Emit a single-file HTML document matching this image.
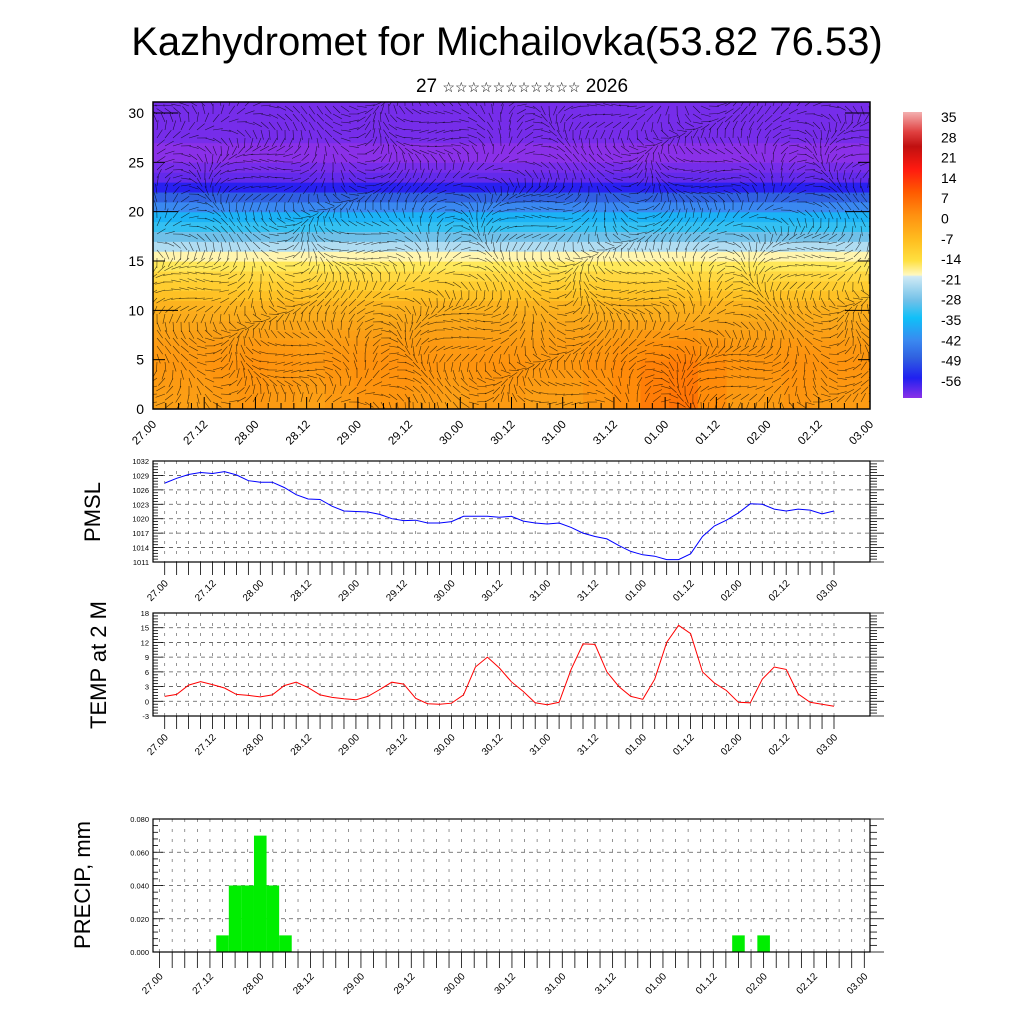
<!DOCTYPE html>
<html><head><meta charset="utf-8"><style>
html,body{margin:0;padding:0;background:#fff}
svg{display:block;font-family:"Liberation Sans",sans-serif}
</style></head><body>
<svg id="c" width="1024" height="1024" viewBox="0 0 1024 1024" xmlns="http://www.w3.org/2000/svg">
<defs>
<linearGradient id="cbg" x1="0" y1="0" x2="0" y2="1">
<stop offset="0" stop-color="#f4b0b0"/><stop offset="0.07" stop-color="#e04040"/><stop offset="0.12" stop-color="#c01010"/>
<stop offset="0.2" stop-color="#ff1a10"/><stop offset="0.28" stop-color="#ff5a00"/><stop offset="0.36" stop-color="#ff9010"/>
<stop offset="0.45" stop-color="#ffbf20"/><stop offset="0.52" stop-color="#ffe040"/><stop offset="0.57" stop-color="#fff8c0"/>
<stop offset="0.575" stop-color="#d0eaf5"/><stop offset="0.66" stop-color="#70c0e8"/><stop offset="0.72" stop-color="#10c0f8"/>
<stop offset="0.8" stop-color="#3a88f0"/><stop offset="0.86" stop-color="#3060e0"/><stop offset="0.93" stop-color="#2020f0"/><stop offset="1" stop-color="#8a30e8"/>
</linearGradient>
<clipPath id="topclip"><rect x="153" y="102" width="717" height="307"/></clipPath>
</defs>
<text x="507" y="55" font-size="40" text-anchor="middle">Kazhydromet for Michailovka(53.82 76.53)</text>
<text x="522" y="92" font-size="19" text-anchor="middle">27 <tspan font-size="14">☆☆☆☆☆☆☆☆☆☆☆</tspan> 2026</text>
<g id="top"></g>
<g id="cb"></g>
<g id="p1"></g>
<g id="p2"></g>
<g id="p3"></g>
<text transform="translate(100,512) rotate(-90)" font-size="22" text-anchor="middle">PMSL</text>
<text transform="translate(106,665) rotate(-90)" font-size="22" text-anchor="middle">TEMP at 2 M</text>
<text transform="translate(90,885) rotate(-90)" font-size="22" text-anchor="middle">PRECIP, mm</text>
</svg>
<script>
const timeLabels=['27.00','27.12','28.00','28.12','29.00','29.12','30.00','30.12','31.00','31.12','01.00','01.12','02.00','02.12','03.00'];
const pmsl=[1027.4,1028.4,1029.2,1029.6,1029.4,1029.8,1029.1,1027.9,1027.6,1027.6,1026.5,1025.0,1024.1,1024.0,1022.6,1021.6,1021.5,1021.4,1020.9,1020.0,1019.6,1019.7,1019.1,1019.1,1019.4,1020.5,1020.5,1020.5,1020.3,1020.5,1019.5,1019.1,1018.9,1019.1,1018.2,1017.0,1016.3,1015.8,1014.4,1013.2,1012.5,1012.2,1011.5,1011.5,1012.7,1016.3,1018.5,1019.7,1021.2,1023.1,1023.0,1022.0,1021.6,1022.0,1021.8,1021.0,1021.6];
const temp=[1.0,1.4,3.3,4.0,3.4,2.7,1.4,1.2,0.9,1.3,3.2,3.9,2.8,1.3,0.8,0.5,0.3,1.0,2.4,3.9,3.5,0.6,-0.5,-0.6,-0.4,1.3,7.0,9.0,6.8,4.0,2.0,-0.3,-0.7,-0.2,6.5,11.7,11.6,6.0,3.0,1.0,0.4,4.5,12.0,15.5,13.8,6.0,3.7,2.2,-0.2,-0.3,4.5,7.0,6.5,1.5,-0.2,-0.6,-1.0];
const precip=[0,0,0,0,0,0.01,0.04,0.04,0.07,0.04,0.01,0,0,0,0,0,0,0,0,0,0,0,0,0,0,0,0,0,0,0,0,0,0,0,0,0,0,0,0,0,0,0,0,0,0,0,0.01,0,0.01,0,0,0,0,0,0,0,0];
const pmslTicks=[1011,1014,1017,1020,1023,1026,1029,1032];
const tempTicks=[-3,0,3,6,9,12,15,18];
const precipTicks=[0,0.02,0.04,0.06,0.08];
const precipTickLabels=['0.000','0.020','0.040','0.060','0.080'];
const heightTicks=[0,5,10,15,20,25,30];
const cbLabels=[35,28,21,14,7,0,-7,-14,-21,-28,-35,-42,-49,-56];
const profile=[4,4.5,5,5.5,6,5.5,5,4,3,2,1,-1,-3,-5,-8,-13,-17,-22,-27,-32,-38,-46,-52,-55,-56,-57,-57,-56,-56,-56,-56,-56];
const anomaly=[0,0,1,2,1,0,1,2,2,1,0,1,1,0,0,2,4,6,7,4,1,1,2,1,1];

const NS='http://www.w3.org/2000/svg';
function el(tag,attrs,parent){const e=document.createElementNS(NS,tag);for(const k in attrs)e.setAttribute(k,attrs[k]);parent.appendChild(e);return e;}

const cstops=[[-57,[138,48,232]],[-52,[40,32,240]],[-46,[48,96,224]],[-38,[58,136,240]],[-30,[16,192,248]],[-22,[112,192,232]],[-14.5,[208,234,245]],[-14,[255,248,192]],[-8,[255,232,90]],[-2,[255,200,40]],[3,[250,165,25]],[8,[255,140,10]],[14,[255,90,0]],[21,[255,26,16]],[28,[192,16,16]]];
function cmap(v){if(v<=cstops[0][0])return 'rgb('+cstops[0][1]+')';for(let i=1;i<cstops.length;i++){if(v<=cstops[i][0]){const a=cstops[i-1],b=cstops[i],t=(v-a[0])/(b[0]-a[0]);return 'rgb('+a[1].map((c,j)=>Math.round(c+(b[1][j]-c)*t)).join(',')+')';}}return 'rgb('+cstops[cstops.length-1][1]+')';}

const NL=timeLabels.length-1;
function rotLabels(g,xs,labels,y,fs,name){labels.forEach((l,i)=>{const t=el('text',{transform:`translate(${xs(i)+4},${y}) rotate(-45)`,'font-size':fs,'text-anchor':'end'},g);t.textContent=l;

});}

(function(){
const g=document.getElementById('top');
const X0=153,X1=870,Y0=409,Ytop=102;
const hy=h=>Y0-h*(296/30);
const cols=anomaly.length;
const cw=(X1-X0)/cols;
const fg=el('g',{'clip-path':'url(#topclip)'},g);
for(let c=0;c<cols;c++){for(let h=0;h<profile.length;h++){
 const w=Math.max(0,1-h/9);
 const v=profile[h]+anomaly[c]*w;
 const r=el('rect',{x:X0+c*cw,y:hy(h+1),width:cw+0.6,height:296/30+0.6,fill:cmap(v)},fg);
 
 
}}
let d='';
for(let x=X0+4;x<X1;x+=8){for(let y=Ytop+4;y<Y0;y+=8){
 const a=Math.sin(x*0.021+y*0.013)*2.2+Math.cos(y*0.05-x*0.008)*1.3;
 const L=10;d+=`M${(x).toFixed(1)} ${y.toFixed(1)}l${(Math.cos(a)*L).toFixed(1)} ${(Math.sin(a)*L).toFixed(1)}`;}}
el('path',{d:d,stroke:'#000','stroke-width':0.6,'stroke-opacity':0.7,fill:'none',},fg);
el('rect',{x:X0,y:Ytop,width:X1-X0,height:Y0-Ytop,fill:'none',stroke:'#000','stroke-width':1.5,},g);
heightTicks.forEach(h=>{const y=hy(h);el('line',{x1:X0,x2:X0+(h%10==0?25:12),y1:y,y2:y,stroke:'#000'},g);el('line',{x1:X1,x2:X1-(h%10==0?25:12),y1:y,y2:y,stroke:'#000'},g);
 const t=el('text',{x:X0-9,y:y+5,'font-size':14,'text-anchor':'end'},g);t.textContent=h;
 
 });
const xs=i=>X0+i*(X1-X0)/NL;
for(let i=0;i<=NL*4;i++){const x=X0+i*(X1-X0)/(NL*4);el('line',{x1:x,x2:x,y1:Y0,y2:Y0-(i%4==0?12:6),stroke:'#000'},g);}
rotLabels(g,xs,timeLabels,Y0+16,11.5,'time-tick-label');
})();

(function(){
const g=document.getElementById('cb');
el('rect',{x:903,y:112,width:19,height:286,fill:'url(#cbg)',},g);
cbLabels.forEach((v,i)=>{const t=el('text',{x:941,y:122+i*20.3,'font-size':14},g);t.textContent=v;
 
 });
})();

function panel(id,cfg){
const g=document.getElementById(id);
const {X0,X1,Y0,Y1,T0,T1,min,max,ticks,tickLabels}=cfg;
const n=57;
const xs=i=>T0+i*(T1-T0)/(n-1);
const ys=v=>Y1-(v-min)/(max-min)*(Y1-Y0);
for(let i=0;i<n;i++){const x=xs(i);el('line',{x1:x,x2:x,y1:Y0,y2:Y1,stroke:'#666','stroke-width':0.7,'stroke-dasharray':'3,7'},g);}
ticks.forEach(v=>{el('line',{x1:X0,x2:X1,y1:ys(v),y2:ys(v),stroke:'#555','stroke-width':0.8,'stroke-dasharray':'4,4'},g);});
if(cfg.type==='bar'){const bw=(T1-T0)/(n-1);cfg.data.forEach((v,i)=>{if(v>0){const r=el('rect',{x:xs(i)-bw/2,y:ys(v),width:bw,height:ys(0)-ys(v),fill:'#00ee00'},g);
 
 }});}
else{el('polyline',{points:cfg.data.map((v,i)=>xs(i).toFixed(1)+','+ys(v).toFixed(1)).join(' '),fill:'none',stroke:cfg.color,'stroke-width':1,},g);}
el('rect',{x:X0,y:Y0,width:X1-X0,height:Y1-Y0,fill:'none',stroke:'#000','stroke-width':1.2},g);
const step=(ticks[1]-ticks[0])/5;
for(let v=min;v<=max+1e-9;v+=step){const y=ys(v);const major=Math.abs(((v-min)/(ticks[1]-ticks[0]))-Math.round((v-min)/(ticks[1]-ticks[0])))<1e-6;
 el('line',{x1:X0,x2:X0+(major?10:5),y1:y,y2:y,stroke:'#000','stroke-width':0.8},g);
 el('line',{x1:X1,x2:X1+(major?14:7),y1:y,y2:y,stroke:'#000','stroke-width':0.8},g);}
ticks.forEach((v,i)=>{const t=el('text',{x:X0-4,y:ys(v)+3,'font-size':7.5,'text-anchor':'end'},g);t.textContent=tickLabels?tickLabels[i]:v;
 
 });
for(let i=0;i<n;i++){const x=xs(i);el('line',{x1:x,x2:x,y1:Y1,y2:Y1+cfg.tl,stroke:'#000','stroke-width':0.8},g);}
rotLabels(g,i=>T0+i*(T1-T0)/NL,timeLabels,Y1+cfg.tl+9,10,'time-tick-label');
}
panel('p1',{X0:153,X1:870,Y0:461,Y1:562,T0:164.7,T1:834,min:1011,max:1032,ticks:pmslTicks,data:pmsl,color:'#0000ff',lineName:'pmsl-line',tl:13});
panel('p2',{X0:153,X1:870,Y0:613,Y1:716,T0:164.7,T1:834,min:-3,max:18,ticks:tempTicks,data:temp,color:'#ff0000',lineName:'temp-line',tl:13});
panel('p3',{X0:153,X1:870,Y0:819,Y1:952,T0:159.6,T1:864.3,min:0,max:0.08,ticks:precipTicks,tickLabels:precipTickLabels,data:precip,type:'bar',tl:16});
</script>
</body></html>
